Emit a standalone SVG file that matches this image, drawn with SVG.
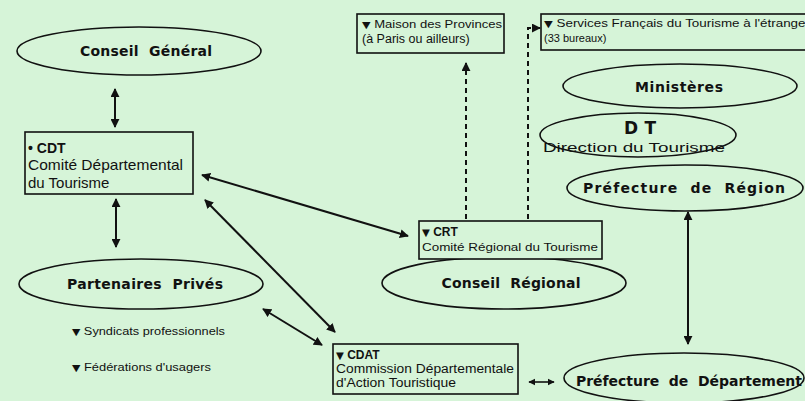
<svg xmlns="http://www.w3.org/2000/svg" width="805" height="401" viewBox="0 0 805 401">
<defs>
<marker id="ah" viewBox="0 0 10 10" refX="9" refY="5" markerWidth="4.5" markerHeight="4.5" orient="auto-start-reverse"><path d="M0,0 L10,5 L0,10 z" fill="#111"/></marker>
<style>
.ell{fill:none;stroke:#111;stroke-width:1.6}
.box{fill:#d6f4d8;stroke:#111;stroke-width:1.6}
.et{font-family:"DejaVu Sans",sans-serif;font-weight:bold;font-size:14px;fill:#111;text-anchor:middle}
.t{font-family:"Liberation Sans",Arial,sans-serif;font-size:11px;fill:#111}
.tb{font-family:"Liberation Sans",Arial,sans-serif;font-size:12px;font-weight:bold;fill:#111}
.tri{font-family:"DejaVu Sans",sans-serif;font-size:0.85em}
.c{stroke:#111;stroke-width:2;fill:none;marker-start:url(#ah);marker-end:url(#ah)}
.d{stroke:#111;stroke-width:2;fill:none;stroke-dasharray:5 4;marker-end:url(#ah)}
</style>
</defs>
<rect width="805" height="401" fill="#d6f4d8"/>
<g id="conseil-general"><ellipse class="ell" cx="139" cy="51" rx="122" ry="24"/><text class="et" x="146" y="56" xml:space="preserve" textLength="132" lengthAdjust="spacing">Conseil  Général</text></g>
<g id="cdt"><rect class="box" x="25" y="132" width="168" height="62"/><text class="tb" x="28" y="153" style="font-size:14px">• CDT</text><text class="t" x="28" y="170" style="font-size:15px" textLength="155" lengthAdjust="spacingAndGlyphs">Comité Départemental</text><text class="t" x="28" y="188" style="font-size:15px">du Tourisme</text></g>
<g id="partenaires"><ellipse class="ell" cx="141" cy="284" rx="122" ry="25"/><text class="et" x="145" y="289" xml:space="preserve" textLength="156" lengthAdjust="spacing">Partenaires  Privés</text></g>
<g id="syndicats"><text class="t" x="72" y="335" textLength="153" lengthAdjust="spacingAndGlyphs"><tspan class="tri">▼</tspan> Syndicats professionnels</text></g>
<g id="federations"><text class="t" x="72" y="371" textLength="139" lengthAdjust="spacingAndGlyphs"><tspan class="tri">▼</tspan> Fédérations d'usagers</text></g>
<g id="maison"><rect class="box" x="357" y="14" width="147" height="39"/><text class="t" x="362" y="28" textLength="140" lengthAdjust="spacingAndGlyphs"><tspan class="tri">▼</tspan> Maison des Provinces</text><text class="t" x="362" y="43" style="font-size:12.5px">(à Paris ou ailleurs)</text></g>
<g id="services"><rect class="box" x="541" y="14" width="270" height="36"/><text class="t" x="544" y="27" textLength="266" lengthAdjust="spacingAndGlyphs"><tspan class="tri">▼</tspan> Services Français du Tourisme à l'étranger</text><text class="t" x="544" y="42">(33 bureaux)</text></g>
<g id="ministeres"><ellipse class="ell" cx="680" cy="86" rx="117" ry="22"/><text class="et" x="679" y="92" textLength="88" lengthAdjust="spacing">Ministères</text></g>
<g id="dt"><ellipse class="ell" cx="638" cy="135" rx="98" ry="22"/><text class="et" x="640" y="134" style="font-size:17px" textLength="32" lengthAdjust="spacing">D T</text><text class="t" x="543" y="152" style="font-size:13px" textLength="182" lengthAdjust="spacingAndGlyphs">Direction du Tourisme</text></g>
<g id="prefecture-region"><ellipse class="ell" cx="685" cy="188" rx="118" ry="23"/><text class="et" x="684" y="193" xml:space="preserve" textLength="202" lengthAdjust="spacing">Préfecture  de  Région</text></g>
<g id="conseil-regional"><ellipse class="ell" cx="504" cy="283" rx="122" ry="26"/><text class="et" x="511" y="288" xml:space="preserve" textLength="139" lengthAdjust="spacing">Conseil  Régional</text></g>
<g id="crt"><rect class="box" x="419" y="221" width="183" height="38"/><text class="tb" x="422" y="236"><tspan class="tri">▼</tspan> CRT</text><text class="t" x="422" y="251" style="font-size:11px" textLength="176" lengthAdjust="spacingAndGlyphs">Comité Régional du Tourisme</text></g>
<g id="cdat"><rect class="box" x="333" y="344" width="185" height="50"/><text class="tb" x="336" y="359"><tspan class="tri">▼</tspan> CDAT</text><text class="t" x="336" y="373" style="font-size:12.5px" textLength="178" lengthAdjust="spacingAndGlyphs">Commission Départementale</text><text class="t" x="336" y="387" style="font-size:13px" textLength="120" lengthAdjust="spacingAndGlyphs">d'Action Touristique</text></g>
<g id="prefecture-departement"><ellipse class="ell" cx="684" cy="378" rx="120" ry="25"/><text class="et" x="689" y="386" xml:space="preserve" textLength="226" lengthAdjust="spacing">Préfecture  de  Département</text></g>
<g id="connectors">
<line class="c" x1="115" y1="89" x2="115" y2="127"/>
<line class="c" x1="116" y1="199" x2="116" y2="247"/>
<line class="c" x1="202" y1="175" x2="408" y2="236"/>
<line class="c" x1="205" y1="200" x2="335" y2="332"/>
<line class="c" x1="263" y1="309" x2="322" y2="345"/>
<line class="c" x1="688" y1="212" x2="688" y2="344"/>
<line class="c" x1="529" y1="382" x2="554" y2="382" style="stroke-width:1.6"/>
<line class="d" x1="466" y1="219" x2="466" y2="63"/>
<path class="d" d="M528,219 V28 H540"/>
</g>
</svg>
